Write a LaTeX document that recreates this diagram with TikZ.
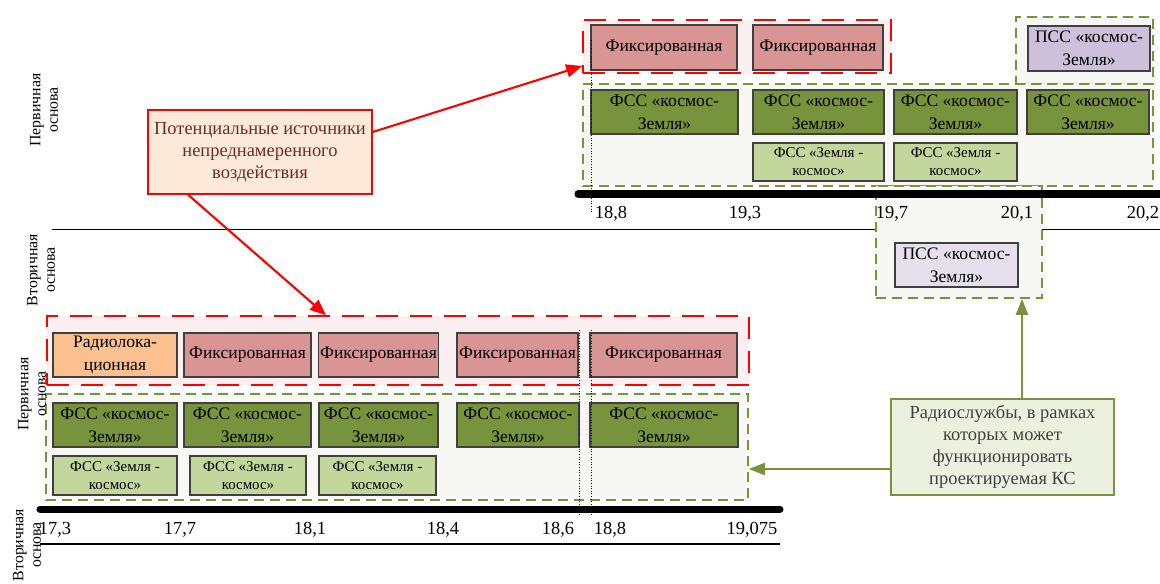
\documentclass[tikz,border=0pt]{standalone}
\usepackage{fontspec}
\setmainfont{Liberation Serif}
\usetikzlibrary{arrows.meta,positioning}
\definecolor{FixRed}{HTML}{D99594}
\definecolor{RadarOrange}{HTML}{FAC090}
\definecolor{FssDark}{HTML}{77933C}
\definecolor{FssLight}{HTML}{C3D69B}
\definecolor{PssViolet}{HTML}{CCC0DA}
\definecolor{PssPale}{HTML}{E5E0EC}
\definecolor{GroupPink}{HTML}{FAF0F1}
\definecolor{GroupGreen}{HTML}{F7F8F3}
\definecolor{NoteRed}{HTML}{FDE9D9}
\definecolor{NoteGreen}{HTML}{EBF1DE}
\definecolor{NoteRedText}{HTML}{6B2C2C}
\definecolor{BoxLine}{HTML}{404040}

\begin{document}
\begin{tikzpicture}[
  x=0.02cm, y=-0.02cm,
  sz/.style 2 args={minimum width=#1*0.02cm, minimum height=#2*0.02cm},
  cell/.style={rectangle, draw=BoxLine, line width=0.6pt, inner sep=1pt, align=center,
               font=\fontsize{10}{13}\selectfont},
  fixd/.style={cell, fill=FixRed},
  radar/.style={cell, fill=RadarOrange},
  fssdown/.style={cell, fill=FssDark},
  fssup/.style={cell, fill=FssLight, font=\fontsize{8.5}{10.2}\selectfont},
  pss/.style={cell, fill=PssViolet},
  psspale/.style={cell, fill=PssPale},
  redgrp/.style={rectangle, draw=red, fill=GroupPink, line width=0.9pt,
                 dash pattern=on 0.44cm off 0.24cm, inner sep=0pt},
  greengrp/.style={rectangle, draw=FssDark, fill=GroupGreen, line width=0.9pt,
                   dash pattern=on 0.2cm off 0.12cm, inner sep=0pt},
  rednote/.style={rectangle, draw=red, fill=NoteRed, line width=0.8pt, text=NoteRedText,
                  align=center, font=\fontsize{10.5}{12.6}\selectfont},
  greennote/.style={rectangle, draw=FssDark, fill=NoteGreen, line width=0.8pt, text=BoxLine,
                    align=center, font=\fontsize{10.5}{12.6}\selectfont},
  axlbl/.style={font=\fontsize{10.5}{12}\selectfont, inner sep=0pt},
  baselbl/.style={rotate=90, align=center, font=\fontsize{9}{10}\selectfont, inner sep=0pt},
  thickaxis/.style={line width=4pt, line cap=round},
  thinaxis/.style={line width=0.8pt},
  dotline/.style={densely dotted, line width=0.5pt},
  redarr/.style={-{Triangle[length=0.32cm,width=0.26cm]}, line width=1.2pt, red},
  grnarr/.style={-{Triangle[length=0.32cm,width=0.24cm]}, line width=1.2pt, FssDark},
]
  \useasboundingbox (0,0) rectangle (1160,583);

  % Upper band: groups
  \node[redgrp, sz={308}{53}] (grpTopRed) at (737,46.5) {};
  \node[greengrp, sz={137}{67}] (grpTopPss) at (1084.5,50.5) {};
  \node[greengrp, sz={570}{102}] (grpTopGreen) at (868,135) {};

  % Upper band: services
  \node[fixd, sz={146}{45}] (fixT1) at (664,47.5) {Фиксированная};
  \node[fixd, sz={130}{45}] (fixT2) at (818,47.5) {Фиксированная};
  \node[pss, sz={122}{45}] (pssT) at (1089,48.5) {ПСС «космос-\\Земля»};
  \node[fssdown, sz={147}{44}] (fssT1) at (664.5,112) {ФСС «космос-\\Земля»};
  \node[fssdown, sz={131}{44}] (fssT2) at (818.5,112) {ФСС «космос-\\Земля»};
  \node[fssdown, sz={123}{44}] (fssT3) at (955.5,112) {ФСС «космос-\\Земля»};
  \node[fssdown, sz={122}{44}] (fssT4) at (1088,112) {ФСС «космос-\\Земля»};
  \node[fssup, sz={131}{38}] (zkT1) at (818.5,162) {ФСС «Земля -\\космос»};
  \node[fssup, sz={123}{38}] (zkT2) at (955.5,162) {ФСС «Земля -\\космос»};

  % Upper band: axis
  \draw[thinaxis] (52,229.5) -- (1160,229.5);
  \node[greengrp, sz={166}{112}] (grpSec) at (959,242) {};
  \node[psspale, sz={123}{44}] (pssS) at (956.5,265) {ПСС «космос-\\Земля»};
  \draw[thickaxis] (578,194) -- (1162,194);
  \draw[dotline] (591,40) -- (591,212);
  \node[axlbl] (t188) at (611,214) {18,8};
  \node[axlbl] (t193) at (745,214) {19,3};
  \node[axlbl] (t197) at (892,214) {19,7};
  \node[axlbl] (t201) at (1017,214) {20,1};
  \node[axlbl] (t202) at (1143,214) {20,2};

  % Lower band: groups
  \node[redgrp, sz={702}{69}] (grpBotRed) at (398,350.5) {};
  \node[greengrp, sz={702}{106}] (grpBotGreen) at (397,447) {};

  % Lower band: services
  \node[radar, sz={124}{44}] (radB) at (115,355) {Радиолока-\\ционная};
  \node[fixd, sz={127}{44}] (fixB1) at (247.5,355) {Фиксированная};
  \node[fixd, sz={119}{44}] (fixB2) at (378.5,355) {Фиксированная};
  \node[fixd, sz={121}{44}] (fixB3) at (517.5,355) {Фиксированная};
  \node[fixd, sz={147}{44}] (fixB4) at (663.5,355) {Фиксированная};
  \node[fssdown, sz={124}{44}] (fssB1) at (115,425) {ФСС «космос-\\Земля»};
  \node[fssdown, sz={127}{44}] (fssB2) at (247.5,425) {ФСС «космос-\\Земля»};
  \node[fssdown, sz={119}{44}] (fssB3) at (378.5,425) {ФСС «космос-\\Земля»};
  \node[fssdown, sz={122}{44}] (fssB4) at (518,425) {ФСС «космос-\\Земля»};
  \node[fssdown, sz={148}{44}] (fssB5) at (664,425) {ФСС «космос-\\Земля»};
  \node[fssup, sz={124}{39}] (zkB1) at (115,475.5) {ФСС «Земля -\\космос»};
  \node[fssup, sz={116}{39}] (zkB2) at (248,475.5) {ФСС «Земля -\\космос»};
  \node[fssup, sz={117}{39}] (zkB3) at (377.5,475.5) {ФСС «Земля -\\космос»};

  % Lower band: axis
  \draw[thickaxis] (40,509) -- (780,509);
  \draw[thinaxis] (40,544) -- (780,544);
  \draw[dotline] (579,330) -- (579,515);
  \draw[dotline] (591,330) -- (591,515);
  \node[axlbl] (b173) at (55,530) {17,3};
  \node[axlbl] (b177) at (180,530) {17,7};
  \node[axlbl] (b181) at (310,530) {18,1};
  \node[axlbl] (b184) at (443,530) {18,4};
  \node[axlbl] (b186) at (558,530) {18,6};
  \node[axlbl] (b188) at (610,530) {18,8};
  \node[axlbl] (b19075) at (752,530) {19,075};

  % Base labels
  \node[baselbl] (baseTop1) at (44,110) {Первичная\\основа};
  \node[baselbl] (baseTop2) at (41,270) {Вторичная\\основа};
  \node[baselbl] (baseBot1) at (32,394) {Первичная\\основа};
  \node[baselbl] (baseBot2) at (27,545) {Вторичная\\основа};

  % Notes
  \node[rednote, sz={224}{84}] (callRed) at (260,152)
    {Потенциальные источники\\непреднамеренного\\воздействия};
  \node[greennote, sz={223}{96}] (callGreen) at (1002.5,447)
    {Радиослужбы, в рамках\\которых может\\функционировать\\проектируемая КС};

  % Arrows
  \draw[redarr] ([yshift=0.4cm]callRed.east) -- ([yshift=-0.39cm]grpTopRed.west);
  \draw[redarr] ([xshift=-1.44cm]callRed.south) -- ([xshift=-1.44cm]grpBotRed.north);
  \draw[grnarr] ([xshift=0.39cm]callGreen.north) -- ([xshift=0.39cm]callGreen.north |- grpSec.south);
  \draw[grnarr] ([yshift=-0.44cm]callGreen.west) -- ([yshift=-0.44cm]callGreen.west -| grpBotGreen.east);
\end{tikzpicture}
\end{document}
